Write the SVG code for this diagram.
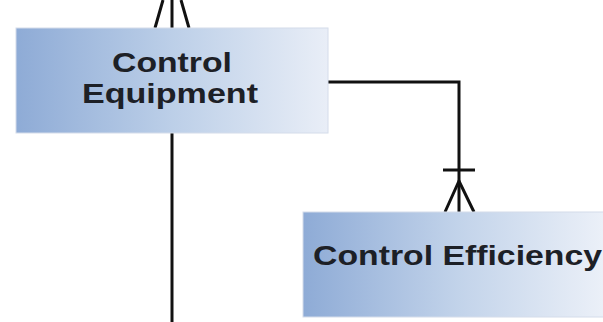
<svg xmlns="http://www.w3.org/2000/svg" width="603" height="322" viewBox="0 0 603 322">
<defs>
<linearGradient id="g1" x1="0" y1="0" x2="1" y2="0">
<stop offset="0" stop-color="#8eabd6"/>
<stop offset="0.5" stop-color="#bccfe8"/>
<stop offset="1" stop-color="#e9eef7"/>
</linearGradient>
<linearGradient id="g2" x1="0" y1="0" x2="1" y2="0">
<stop offset="0" stop-color="#8eabd6"/>
<stop offset="0.5" stop-color="#c2d3ea"/>
<stop offset="1" stop-color="#eef2f9"/>
</linearGradient>
</defs>
<style>
.box{stroke:#d4dcea;stroke-width:1}
.lbl{font-family:"Liberation Sans",Arial,sans-serif;font-weight:bold;font-size:27px;fill:#1d2026}
.ln{stroke:#111;stroke-width:3;fill:none}
</style>
<rect width="603" height="322" fill="#fff"/>
<g id="connectors">
<line class="ln" x1="172" y1="0" x2="172" y2="28"/>
<path class="ln" d="M163,0 L155,28 M181,0 L189,28"/>
<line class="ln" x1="172" y1="133" x2="172" y2="322"/>
<path class="ln" d="M328,82 H459 V212"/>
<line class="ln" x1="443" y1="170" x2="475" y2="170"/>
<path class="ln" d="M445,212 L459,181 L474,212"/>
</g>
<g id="control-equipment">
<rect class="box" x="16" y="28" width="312" height="105" fill="url(#g1)"/>
<text class="lbl" x="172" y="72" text-anchor="middle" textLength="120" lengthAdjust="spacingAndGlyphs">Control</text>
<text class="lbl" x="170" y="103" text-anchor="middle" textLength="176" lengthAdjust="spacingAndGlyphs">Equipment</text>
</g>
<g id="control-efficiency">
<rect class="box" x="303" y="212" width="310" height="105" fill="url(#g2)"/>
<text class="lbl" x="313" y="265" textLength="289" lengthAdjust="spacingAndGlyphs">Control Efficiency</text>
</g>
</svg>
